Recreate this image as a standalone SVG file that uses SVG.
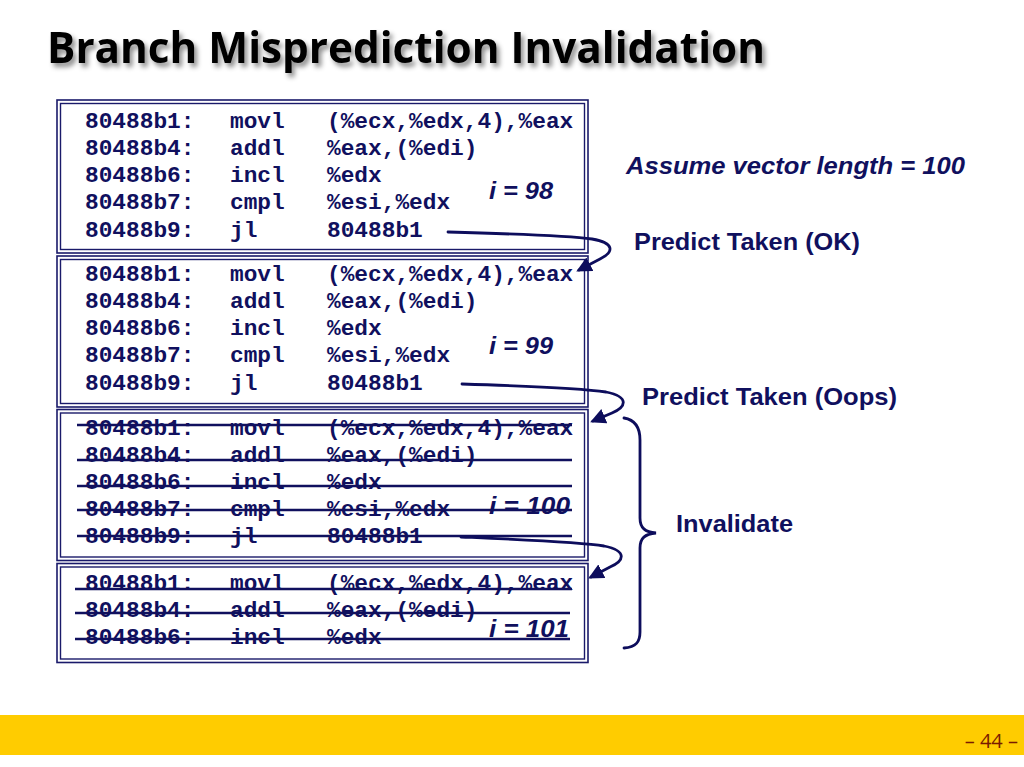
<svg xmlns="http://www.w3.org/2000/svg" width="1024" height="767" viewBox="0 0 1024 767">
<defs>
<style>
.code{font-family:"Liberation Mono","Courier New",monospace;font-weight:bold;font-size:22.8px;fill:#10105e}
.lbl{font-family:"Liberation Sans",Arial,sans-serif;font-weight:bold;font-size:24px;fill:#10105e}
.it{font-style:italic}
.bo{fill:none;stroke:#1a1a6a;stroke-width:1.6}
.bi{fill:none;stroke:#1a1a6a;stroke-width:1.4}
.strike{stroke:#10105e;stroke-width:2.5;fill:none}
.conn{fill:none;stroke:#0d0d5c;stroke-width:2.8;stroke-linecap:round}
</style>
<marker id="ah" viewBox="0 0 10 10" refX="8" refY="5" markerWidth="5.5" markerHeight="5.5" orient="auto" markerUnits="strokeWidth">
<path d="M0,0 L10,5 L0,10 z" fill="#0d0d5c"/>
</marker>
<filter id="sh" x="-5%" y="-30%" width="110%" height="170%">
<feDropShadow dx="3" dy="4" stdDeviation="2.5" flood-color="#000" flood-opacity="0.45"/>
</filter>
</defs>
<rect width="1024" height="767" fill="#fff"/>
<text x="47" y="63" font-family="'Liberation Sans Narrow','Open Sans',sans-serif" font-weight="bold" font-size="43" fill="#000" textLength="718" lengthAdjust="spacingAndGlyphs" filter="url(#sh)">Branch Misprediction Invalidation</text>

<g id="box1">
<rect class="bo" x="57" y="100" width="531" height="153"/>
<rect class="bi" x="60.5" y="103.5" width="524" height="146"/>
<text class="code" x="85" y="128">80488b1:</text><text class="code" x="230" y="128">movl</text><text class="code" x="327" y="128">(%ecx,%edx,4),%eax</text>
<text class="code" x="85" y="155">80488b4:</text><text class="code" x="230" y="155">addl</text><text class="code" x="327" y="155">%eax,(%edi)</text>
<text class="code" x="85" y="182">80488b6:</text><text class="code" x="230" y="182">incl</text><text class="code" x="327" y="182">%edx</text>
<text class="code" x="85" y="209">80488b7:</text><text class="code" x="230" y="209">cmpl</text><text class="code" x="327" y="209">%esi,%edx</text>
<text class="code" x="85" y="237">80488b9:</text><text class="code" x="230" y="237">jl</text><text class="code" x="327" y="237">80488b1</text>
<text class="lbl it" x="489" y="199" textLength="64" lengthAdjust="spacingAndGlyphs">i = 98</text>
</g>

<g id="box2">
<rect class="bo" x="57" y="256" width="531" height="151"/>
<rect class="bi" x="60.5" y="259.5" width="524" height="144"/>
<text class="code" x="85" y="281">80488b1:</text><text class="code" x="230" y="281">movl</text><text class="code" x="327" y="281">(%ecx,%edx,4),%eax</text>
<text class="code" x="85" y="308">80488b4:</text><text class="code" x="230" y="308">addl</text><text class="code" x="327" y="308">%eax,(%edi)</text>
<text class="code" x="85" y="335">80488b6:</text><text class="code" x="230" y="335">incl</text><text class="code" x="327" y="335">%edx</text>
<text class="code" x="85" y="362">80488b7:</text><text class="code" x="230" y="362">cmpl</text><text class="code" x="327" y="362">%esi,%edx</text>
<text class="code" x="85" y="390">80488b9:</text><text class="code" x="230" y="390">jl</text><text class="code" x="327" y="390">80488b1</text>
<text class="lbl it" x="489" y="354" textLength="64" lengthAdjust="spacingAndGlyphs">i = 99</text>
</g>

<g id="box3">
<rect class="bo" x="57" y="409.5" width="531" height="151"/>
<rect class="bi" x="60.5" y="413" width="524" height="144"/>
<text class="code" x="85" y="435">80488b1:</text><text class="code" x="230" y="435">movl</text><text class="code" x="327" y="435">(%ecx,%edx,4),%eax</text>
<text class="code" x="85" y="462">80488b4:</text><text class="code" x="230" y="462">addl</text><text class="code" x="327" y="462">%eax,(%edi)</text>
<text class="code" x="85" y="489">80488b6:</text><text class="code" x="230" y="489">incl</text><text class="code" x="327" y="489">%edx</text>
<text class="code" x="85" y="516">80488b7:</text><text class="code" x="230" y="516">cmpl</text><text class="code" x="327" y="516">%esi,%edx</text>
<text class="code" x="85" y="543">80488b9:</text><text class="code" x="230" y="543">jl</text><text class="code" x="327" y="543">80488b1</text>
<text class="lbl it" x="489" y="514" textLength="81" lengthAdjust="spacingAndGlyphs">i = 100</text>
<path class="strike" d="M77,425 L572,425 M77,460 L572,460 M77,486 L572,486 M77,510 L572,510 M77,536 L572,536"/>
</g>

<g id="box4">
<rect class="bo" x="57" y="563.5" width="531" height="99"/>
<rect class="bi" x="60.5" y="567" width="524" height="92"/>
<text class="code" x="85" y="590">80488b1:</text><text class="code" x="230" y="590">movl</text><text class="code" x="327" y="590">(%ecx,%edx,4),%eax</text>
<text class="code" x="85" y="617">80488b4:</text><text class="code" x="230" y="617">addl</text><text class="code" x="327" y="617">%eax,(%edi)</text>
<text class="code" x="85" y="644">80488b6:</text><text class="code" x="230" y="644">incl</text><text class="code" x="327" y="644">%edx</text>
<text class="lbl it" x="489" y="637" textLength="80" lengthAdjust="spacingAndGlyphs">i = 101</text>
<path class="strike" d="M75,589 L572,589 M75,613 L570,613 M75,639 L570,639"/>
</g>

<g id="notes">
<text class="lbl it" x="626" y="174" textLength="339" lengthAdjust="spacingAndGlyphs">Assume vector length = 100</text>
<text class="lbl" x="634" y="250" textLength="226" lengthAdjust="spacingAndGlyphs">Predict Taken (OK)</text>
<text class="lbl" x="642" y="405" textLength="255" lengthAdjust="spacingAndGlyphs">Predict Taken (Oops)</text>
<text class="lbl" x="676" y="532" textLength="117" lengthAdjust="spacingAndGlyphs">Invalidate</text>
</g>

<g id="connectors">
<path class="conn" marker-end="url(#ah)" d="M448,232 C520,234 570,236 592,239 C615,243 614,252 600,259 L579,270"/>
<path class="conn" marker-end="url(#ah)" d="M462,384 C530,386 580,388 606,392 C630,397 626,407 612,413 L593,421"/>
<path class="conn" marker-end="url(#ah)" d="M461,537 C530,540 580,542 604,546 C628,551 624,561 610,567 L591,577"/>
<path class="conn" d="M624,418 C636,420 640,428 640,440 L640,518 C640,528 645,532 656,533 C645,534 640,538 640,548 L640,632 C640,642 636,647 624,648"/>
</g>

<rect x="0" y="715" width="1024" height="40" fill="#ffcc00"/>
<text x="1018" y="748" text-anchor="end" font-family="'Open Sans','Liberation Sans',sans-serif" font-size="20" fill="#7a1a00">– 44 –</text>
</svg>
